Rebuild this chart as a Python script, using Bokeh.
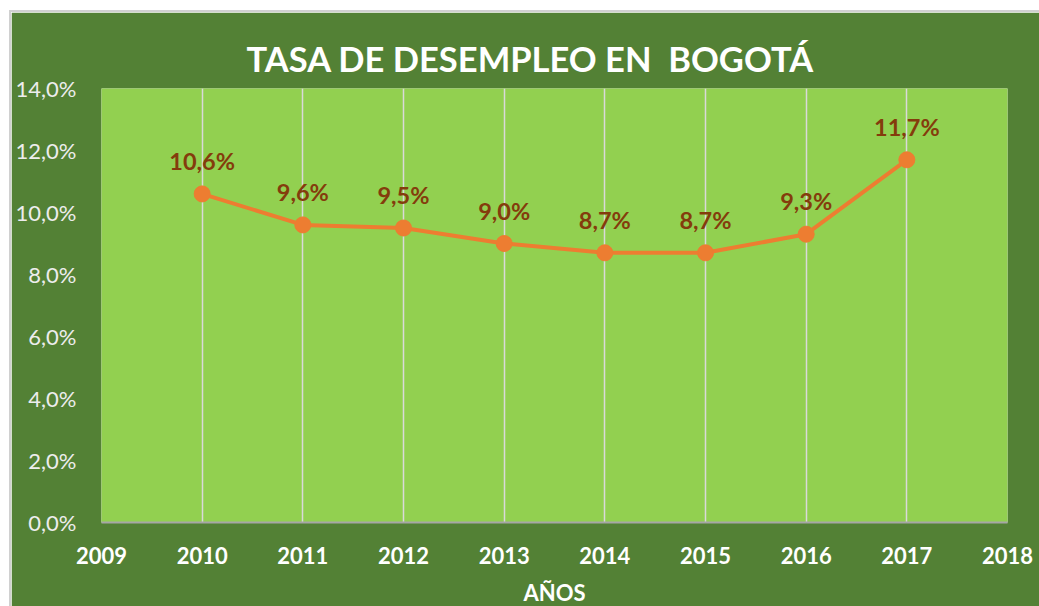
from bokeh.plotting import figure
from bokeh.models import ColumnDataSource, FixedTicker, CustomJSTickFormatter, LabelSet
from bokeh.core.properties import value
from bokeh.embed import file_html
from bokeh.resources import INLINE

# ---- data ----
years = [2010, 2011, 2012, 2013, 2014, 2015, 2016, 2017]
rates = [10.6, 9.6, 9.5, 9.0, 8.7, 8.7, 9.3, 11.7]
labels = [f"{v:.1f}".replace(".", ",") + "%" for v in rates]
x_ticks = [2009, 2010, 2011, 2012, 2013, 2014, 2015, 2016, 2017, 2018]
y_ticks = [0, 2, 4, 6, 8, 10, 12, 14]
title_text = "TASA DE DESEMPLEO EN\u00a0 BOGOTÁ"
x_label = "AÑOS"

DARK = "#538135"
LIGHT = "#92D050"
ORANGE = "#ED7D31"
BROWN = "#843C0C"
FONT = "Lato"

src = ColumnDataSource(dict(x=years, y=rates, lab=labels))

p = figure(width=1030, height=596, output_backend="svg", toolbar_location=None,
           x_range=(2009, 2018), y_range=(0, 14),
           min_border_left=90, min_border_right=34, min_border_top=76, min_border_bottom=84)
p.margin = (10, 0, 0, 9)
p.styles = {"border-top": "2px solid #D0D0D0", "border-left": "2px solid #D0D0D0",
            "box-sizing": "border-box"}
p.background_fill_color = LIGHT
p.border_fill_color = DARK
p.outline_line_color = None

p.title.text = title_text
p.title.align = "left"
p.title.offset = 145
p.title.text_color = "white"
p.title.text_font = FONT
p.title.text_font_size = "34.5px"
p.title.text_font_style = "bold"
p.title.standoff = 20

# x axis
p.xaxis.ticker = FixedTicker(ticks=x_ticks)
p.xaxis.major_label_text_color = "white"
p.xaxis.major_label_text_font = FONT
p.xaxis.major_label_text_font_style = "bold"
p.xaxis.major_label_text_font_size = "22px"
p.xaxis.major_label_standoff = 18
p.xaxis.major_tick_line_color = None
p.xaxis.minor_tick_line_color = None
p.xaxis.axis_line_color = "#A6A6A6"
p.xaxis.axis_line_width = 2
p.xaxis.axis_label = x_label
p.xaxis.axis_label_text_color = "white"
p.xaxis.axis_label_text_font = FONT
p.xaxis.axis_label_text_font_style = "bold"
p.xaxis.axis_label_text_font_size = "22px"
p.xaxis.axis_label_standoff = 12

# y axis
p.yaxis.ticker = FixedTicker(ticks=y_ticks)
p.yaxis.formatter = CustomJSTickFormatter(code="return tick.toFixed(1).replace('.', ',') + '%';")
p.yaxis.major_label_text_color = "#EDEDED"
p.yaxis.major_label_text_font = FONT
p.yaxis.major_label_text_font_size = "22px"
p.yaxis.major_label_standoff = 19
p.yaxis.major_tick_line_color = None
p.yaxis.minor_tick_line_color = None
p.yaxis.axis_line_color = None

p.xgrid.ticker = FixedTicker(ticks=x_ticks)
p.xgrid.grid_line_color = "#D9D9D9"
p.xgrid.grid_line_width = 1.5
p.ygrid.grid_line_color = None

p.line("x", "y", source=src, line_color=ORANGE, line_width=4)
p.scatter("x", "y", source=src, size=16, fill_color=ORANGE, line_color=ORANGE)

p.add_layout(LabelSet(x="x", y="y", text="lab", source=src, text_align="center",
                      text_baseline="middle", y_offset=33, text_color=BROWN,
                      text_font=value(FONT), text_font_style="bold", text_font_size="23.5px"))

open("out.html", "w").write(file_html(p, INLINE))
